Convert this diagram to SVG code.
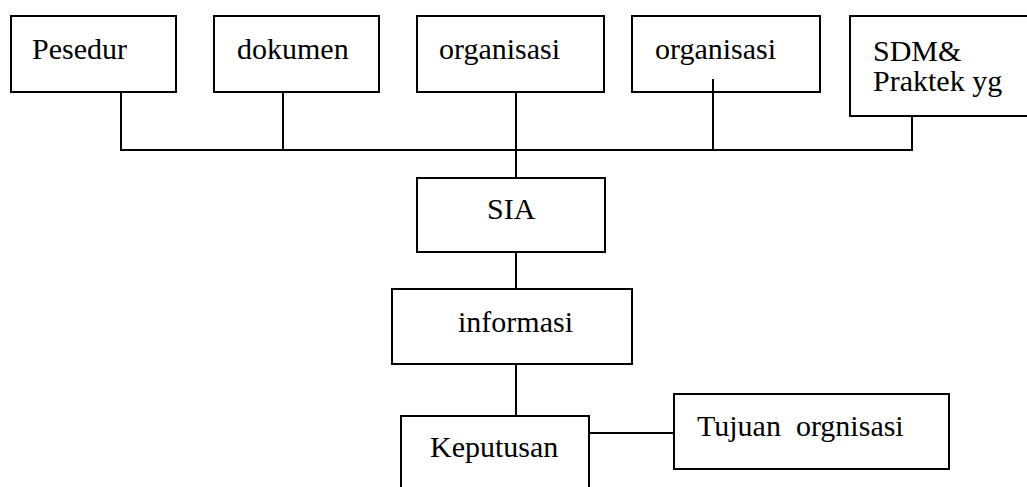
<svg xmlns="http://www.w3.org/2000/svg" width="1027" height="487" viewBox="0 0 1027 487">
<style>
.box{fill:#fff;stroke:#000;stroke-width:2}
.ln{fill:none;stroke:#000;stroke-width:2}
</style>
<rect width="1027" height="487" fill="#fff"/>
<g font-family="Liberation Serif, DejaVu Serif, serif" font-size="30" fill="#000">
<g id="n-pesedur"><rect class="box" x="11" y="16" width="165" height="76"/><text x="32" y="59">Pesedur</text></g>
<g id="n-dokumen"><rect class="box" x="214" y="16" width="165" height="76"/><text x="237" y="59">dokumen</text></g>
<g id="n-organisasi1"><rect class="box" x="417" y="16" width="187" height="76"/><text x="439" y="59">organisasi</text></g>
<g id="n-organisasi2"><rect class="box" x="632" y="16" width="188" height="76"/><text x="655" y="59">organisasi</text></g>
<g id="n-sdm"><rect class="box" x="850" y="16" width="185" height="100"/><text x="873" y="61">SDM&amp;</text><text x="873" y="91">Praktek yg</text></g>
<g id="n-sia"><rect class="box" x="417" y="178" width="188" height="74"/><text x="487" y="219">SIA</text></g>
<g id="n-informasi"><rect class="box" x="392" y="289" width="240" height="75"/><text x="458" y="332">informasi</text></g>
<g id="n-keputusan"><rect class="box" x="401" y="416" width="188" height="100"/><text x="430" y="457">Keputusan</text></g>
<g id="n-tujuan"><rect class="box" x="674" y="394" width="275" height="75"/><text x="697" y="436" xml:space="preserve">Tujuan  orgnisasi</text></g>
</g>
<g id="connectors">
<path class="ln" d="M121 92V150H912V116"/>
<path class="ln" d="M283 92V150"/>
<path class="ln" d="M516 92V178"/>
<path class="ln" d="M713 79V150"/>
<path class="ln" d="M516 252V289"/>
<path class="ln" d="M516 364V416"/>
<path class="ln" d="M589 433H674"/>
</g>
</svg>
